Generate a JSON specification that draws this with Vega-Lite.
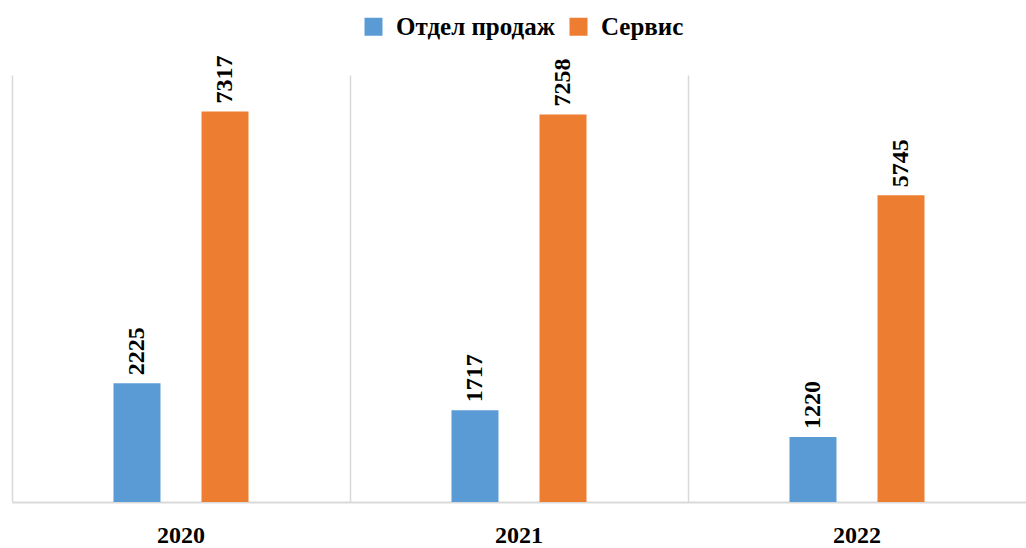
{
  "$schema": "https://vega.github.io/schema/vega-lite/v6.json",
  "width": 1014,
  "height": 427,
  "autosize": {"type": "none"},
  "padding": {"left": 12, "top": 75, "right": 0, "bottom": 46},
  "background": "white",
  "config": {
    "view": {"stroke": null},
    "font": "Liberation Serif"
  },
  "data": {
    "values": [
      {"year": "2020", "dept": "Отдел продаж", "value": 2225},
      {"year": "2020", "dept": "Сервис", "value": 7317},
      {"year": "2021", "dept": "Отдел продаж", "value": 1717},
      {"year": "2021", "dept": "Сервис", "value": 7258},
      {"year": "2022", "dept": "Отдел продаж", "value": 1220},
      {"year": "2022", "dept": "Сервис", "value": 5745}
    ]
  },
  "encoding": {
    "x": {
      "field": "year",
      "type": "nominal",
      "scale": {"paddingInner": 0, "paddingOuter": 0},
      "axis": {
        "title": null,
        "labelAngle": 0,
        "labelFont": "Liberation Serif",
        "labelFontWeight": "bold",
        "labelFontSize": 24,
        "labelColor": "#000000",
        "labelPadding": 21,
        "ticks": false,
        "domainColor": "#d9d9d9",
        "domainWidth": 2,
        "grid": true,
        "bandPosition": 0,
        "gridColor": "#d9d9d9",
        "gridWidth": 1.5
      }
    },
    "xOffset": {
      "field": "dept",
      "type": "nominal",
      "sort": ["Отдел продаж", "Сервис"],
      "scale": {"paddingInner": 0, "paddingOuter": 0.92}
    },
    "y": {
      "field": "value",
      "type": "quantitative",
      "scale": {"domain": [0, 8000], "nice": false},
      "axis": null
    }
  },
  "layer": [
    {
      "mark": {"type": "bar", "width": 47},
      "encoding": {
        "color": {
          "field": "dept",
          "type": "nominal",
          "sort": ["Отдел продаж", "Сервис"],
          "scale": {"domain": ["Отдел продаж", "Сервис"], "range": ["#5B9BD5", "#ED7D31"]},
          "legend": {
            "title": null,
            "orient": "none",
            "direction": "horizontal",
            "legendX": 349,
            "legendY": -61,
            "padding": 0,
            "symbolType": "square",
            "symbolSize": 324,
            "symbolStrokeWidth": 0,
            "labelFont": "Liberation Serif",
            "labelFontWeight": "bold",
            "labelFontSize": 25,
            "labelColor": "#000000",
            "labelOffset": 10,
            "labelLimit": 400,
            "columnPadding": 11
          }
        }
      }
    },
    {
      "mark": {
        "type": "text",
        "angle": 270,
        "align": "left",
        "baseline": "middle",
        "dx": 8,
        "font": "Liberation Serif",
        "fontWeight": "bold",
        "fontSize": 24,
        "color": "#000000"
      },
      "encoding": {
        "text": {"field": "value", "type": "quantitative", "format": "d"}
      }
    }
  ]
}
